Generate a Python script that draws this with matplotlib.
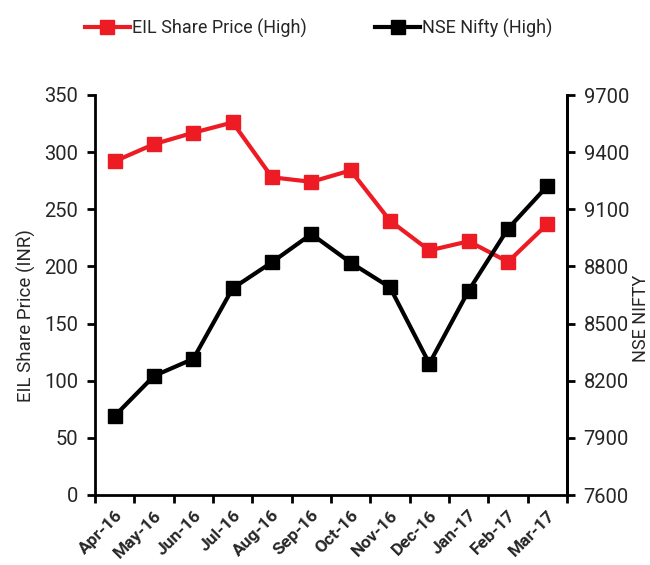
import matplotlib
matplotlib.use('Agg')
import matplotlib.pyplot as plt
from matplotlib.lines import Line2D

plt.rcParams['font.family'] = ['Roboto', 'DejaVu Sans']

# data
months = ['Apr-16', 'May-16', 'Jun-16', 'Jul-16', 'Aug-16', 'Sep-16',
          'Oct-16', 'Nov-16', 'Dec-16', 'Jan-17', 'Feb-17', 'Mar-17']
eil_high = [292, 307, 317, 326, 278, 274, 284, 240, 214, 222, 204, 237]
nifty_high = [8015, 8225, 8315, 8685, 8822, 8970, 8820, 8690, 8290, 8673, 8998, 9222]

left_ticks = [0, 50, 100, 150, 200, 250, 300, 350]
right_ticks = [7600, 7900, 8200, 8500, 8800, 9100, 9400, 9700]

red = '#ED1C24'
black = '#000000'
txt = '#262626'

fig = plt.figure(figsize=(6.5, 5.65), dpi=100)
ax = fig.add_axes([95 / 650, 70 / 565, 472 / 650, 400 / 565])
ax2 = ax.twinx()

x = list(range(len(months)))
ax.plot(x, eil_high, color=red, lw=3, marker='s', ms=10, zorder=3)
ax2.plot(x, nifty_high, color=black, lw=3, marker='s', ms=10, zorder=3)

ax.set_xlim(-0.5, len(months) - 0.5)
ax.set_ylim(0, 350)
ax2.set_ylim(7600, 9700)
ax.set_yticks(left_ticks)
ax2.set_yticks(right_ticks)

# category boundary tick marks, labels at centres
ax.set_xticks([i - 0.5 for i in range(len(months) + 1)], minor=True)
ax.set_xticks(x)
ax.set_xticklabels(months, rotation=45, ha='right', rotation_mode='anchor',
                   fontsize=12.5, fontweight='bold', color=txt)
ax.tick_params(axis='x', which='major', length=0, pad=9)
ax.tick_params(axis='x', which='minor', length=6, width=2, direction='out')
ax.tick_params(axis='y', length=6, width=2, labelsize=14.5, labelcolor=txt, pad=6)
ax2.tick_params(axis='y', length=6, width=2, labelsize=14.5, labelcolor=txt, pad=6)

for a in (ax, ax2):
    a.spines['top'].set_visible(False)
    for s in ('left', 'right', 'bottom'):
        a.spines[s].set_linewidth(2)
ax2.spines['left'].set_visible(False)
ax2.spines['bottom'].set_visible(False)

# axis titles sit a bit below the middle of the axes, as in the original
fig.text(26 / 650, 1 - 316 / 565, 'EIL Share Price (INR)', rotation=90,
         ha='center', va='center', fontsize=13.5, color=txt)
fig.text(641 / 650, 1 - 318 / 565, 'NSE NIFTY', rotation=90,
         ha='center', va='center', fontsize=13, color=txt)

handles = [Line2D([], [], color=red, lw=3, marker='s', ms=10),
           Line2D([], [], color=black, lw=3, marker='s', ms=10)]
fig.legend(handles, ['EIL Share Price (High)', 'NSE Nifty (High)'],
           loc='center', bbox_to_anchor=(0.49, 1 - 28 / 565), ncol=2,
           frameon=False, fontsize=13, handlelength=2.5, handletextpad=0.1,
           columnspacing=3.8, labelcolor=txt)

fig.savefig('out.png', dpi=100)
